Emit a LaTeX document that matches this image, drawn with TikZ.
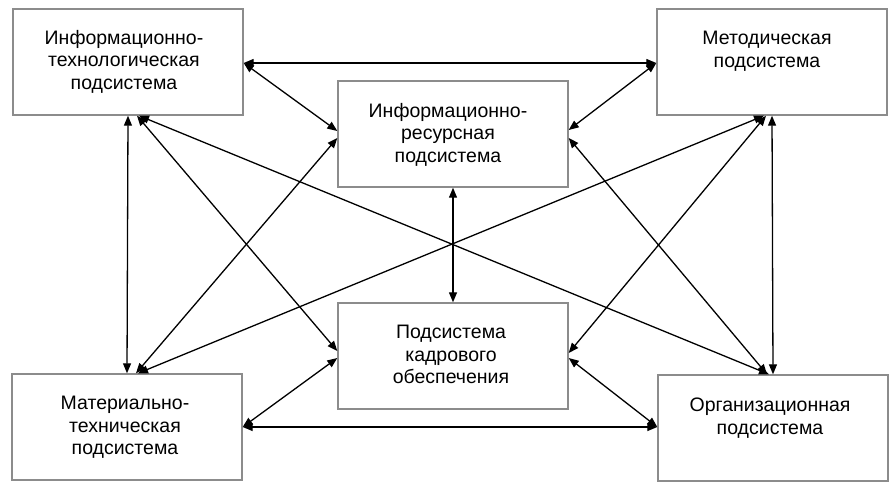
\documentclass[tikz,border=0pt]{standalone}
\usepackage{fontspec}
\setmainfont{Liberation Sans}
\usetikzlibrary{arrows.meta}
\begin{document}
\begin{tikzpicture}[x=1pt,y=-1pt,
  boxnode/.style={draw=black!45,line width=1.4pt,rectangle,minimum width=230pt,minimum height=106pt,inner sep=0pt},
  labelnode/.style={anchor=north,align=center,inner sep=0pt,font=\fontsize{19.5}{22.5}\selectfont},
  link/.style={line width=1.3pt,{Triangle[length=10pt,width=8pt]}-{Triangle[length=10pt,width=8pt]}}]
\useasboundingbox (0,0) rectangle (891,490);
\node[boxnode] (tl) at (128,62) {};
\node[boxnode] (tr) at (772,62) {};
\node[boxnode] (ct) at (453,134) {};
\node[boxnode] (cb) at (453,356) {};
\node[boxnode] (bl) at (127,427) {};
\node[boxnode] (br) at (773,428) {};
\node[labelnode] (tlt) at (124,30) {Информационно-\\технологическая\\подсистема};
\node[labelnode] (trt) at (767,31) {Методическая\\подсистема};
\node[labelnode] (ctt) at (448,103) {Информационно-\\ресурсная\\подсистема};
\node[labelnode] (cbt) at (451,325) {Подсистема\\кадрового\\обеспечения};
\node[labelnode] (blt) at (125,396) {Материально-\\техническая\\подсистема};
\node[labelnode] (brt) at (770,398) {Организационная\\подсистема};
% outer frame links
\draw[link] ([yshift=-1pt]tl.east) -- ([yshift=-1pt]tr.west);
\draw[link] (bl.east) -- ([yshift=1pt]br.west);
\draw[link] (tl.south) -- (bl.north);
\draw[link] (tr.south) -- (br.north);
\draw[link] (ct.south) -- (cb.north);
% links to centre top
\draw[link] ([yshift=-1pt]tl.east) -- ([yshift=3pt]ct.west);
\draw[link] ([xshift=9pt]bl.north) -- ([yshift=-4pt]ct.west);
\draw[link] ([yshift=-1pt]tr.west) -- ([yshift=4pt]ct.east);
\draw[link] ([xshift=-6pt]br.north) -- ([yshift=-4pt]ct.east);
% links to centre bottom
\draw[link] ([xshift=9pt]tl.south) -- ([yshift=5pt]cb.west);
\draw[link] (bl.east) -- ([yshift=-2pt]cb.west);
\draw[link] ([xshift=-6pt]tr.south) -- ([yshift=3pt]cb.east);
\draw[link] ([yshift=1pt]br.west) -- ([yshift=-2pt]cb.east);
% long diagonals
\draw[link] ([xshift=11pt]tl.south) -- ([xshift=-4pt]br.north);
\draw[link] ([xshift=11pt]bl.north) -- ([xshift=-8pt]tr.south);
\end{tikzpicture}
\end{document}
